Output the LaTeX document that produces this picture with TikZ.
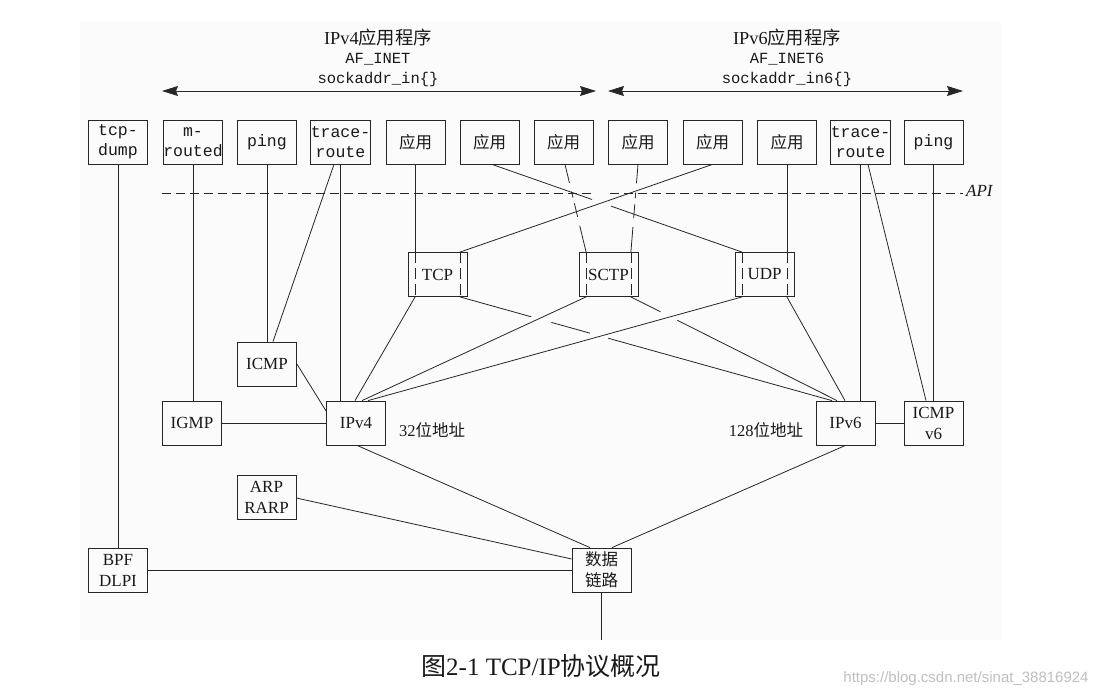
\documentclass[tikz,border=0pt]{standalone}
\usepackage{fontspec}
\usepackage{tikz}
\usetikzlibrary{arrows.meta}
\setmainfont{Liberation Serif}
\setmonofont{Liberation Mono}
\newfontfamily\cjk{Noto Sans CJK SC}
\newfontfamily\wmfont{Liberation Sans}

\begin{document}
\begin{tikzpicture}[x=1pt,y=-1pt,
    line/.style={line width=0.8pt,black!85},
    box/.style={draw=black!85,line width=0.8pt,minimum width=59pt,minimum height=44pt,inner sep=0pt,align=center,text=black!90,font=\fontsize{17}{21}\selectfont},
    monobox/.style={box,font=\ttfamily\fontsize{16.5}{20}\selectfont},
    appbox/.style={box,font=\cjk\fontsize{16.5}{20}\selectfont},
    inner dash/.style={line,dash pattern=on 11pt off 5pt},
    apiline/.style={line,dash pattern=on 9pt off 5pt},
    famarrow/.style={line,{Stealth[length=16pt,width=10pt,inset=2pt]}-{Stealth[length=16pt,width=10pt,inset=2pt]}},
    label/.style={inner sep=0pt,text=black!90}]
      \useasboundingbox (0,0) rectangle (1098,696);
      \fill [black!1.5] (80,22) rectangle (1002,640);
      \node [label,font=\fontsize{18.3}{20}\selectfont] (fourtitle) at (378,38) {IPv4{\cjk 应用程序}};
      \node [label,font=\ttfamily\fontsize{15.5}{18}\selectfont] (fourfam) at (378,59) {AF\_INET};
      \node [label,font=\ttfamily\fontsize{15.5}{18}\selectfont] (fouraddr) at (378,79) {sockaddr\_in\{\}};
      \node [label,font=\fontsize{18.3}{20}\selectfont] (sixtitle) at (787,38) {IPv6{\cjk 应用程序}};
      \node [label,font=\ttfamily\fontsize{15.5}{18}\selectfont] (sixfam) at (787,59) {AF\_INET6};
      \node [label,font=\ttfamily\fontsize{15.5}{18}\selectfont] (sixaddr) at (787,79) {sockaddr\_in6\{\}};
      \coordinate (fourleft) at (162,91);
      \coordinate (fourright) at (596,91);
      \coordinate (sixleft) at (608,91);
      \coordinate (sixright) at (963,91);
      \draw [famarrow] (fourleft) -- (fourright);
      \draw [famarrow] (sixleft) -- (sixright);
      \node [monobox] (tcpdump) at (118,142) {tcp-\\dump};
      \node [monobox] (mrouted) at (193,142) {m-\\routed};
      \node [monobox] (pingfour) at (267,142) {ping};
      \node [monobox] (tracefour) at (340.5,142) {trace-\\route};
      \node [appbox] (appa) at (415.5,142) {应用};
      \node [appbox] (appb) at (489.5,142) {应用};
      \node [appbox] (appc) at (563.5,142) {应用};
      \node [appbox] (appd) at (638,142) {应用};
      \node [appbox] (appe) at (712.5,142) {应用};
      \node [appbox] (appf) at (787,142) {应用};
      \node [monobox] (tracesix) at (860.5,142) {trace-\\route};
      \node [monobox] (pingsix) at (933.5,142) {ping};
      \coordinate (apileft) at (162,193);
      \coordinate (apigapa) at (593,193);
      \coordinate (apigapb) at (610,193);
      \coordinate (apiright) at (963,193);
      \draw [apiline] (apileft) -- (apigapa);
      \draw [apiline] (apigapb) -- (apiright);
      \node [label,anchor=west,font=\itshape\fontsize{17}{20}\selectfont] (api) at (966,191) {API};
      \node [box] (tcp) at (437.5,274.5) {TCP};
      \node [box] (sctp) at (608.5,274.5) {SCTP};
      \node [box] (udp) at (764.5,274.5) {UDP};
      \draw [inner dash] ([xshift=7.5pt]tcp.north west) -- ([xshift=7.5pt]tcp.south west);
      \draw [inner dash] ([xshift=-7.5pt]tcp.north east) -- ([xshift=-7.5pt]tcp.south east);
      \draw [inner dash] ([xshift=7.5pt]sctp.north west) -- ([xshift=7.5pt]sctp.south west);
      \draw [inner dash] ([xshift=-7.5pt]sctp.north east) -- ([xshift=-7.5pt]sctp.south east);
      \draw [inner dash] ([xshift=7.5pt]udp.north west) -- ([xshift=7.5pt]udp.south west);
      \draw [inner dash] ([xshift=-7.5pt]udp.north east) -- ([xshift=-7.5pt]udp.south east);
      \node [box] (icmp) at (267,364) {ICMP};
      \node [box] (igmp) at (192,423) {IGMP};
      \node [box] (ipfour) at (356,423) {IPv4};
      \node [box] (ipsix) at (845.5,423) {IPv6};
      \node [box] (icmpsix) at (933.5,423) {ICMP\\v6};
      \node [label,font=\fontsize{16.5}{18}\selectfont] (fourbits) at (432,430) {32{\cjk 位地址}};
      \node [label,font=\fontsize{16.5}{18}\selectfont] (sixbits) at (766,430) {128{\cjk 位地址}};
      \node [box] (arp) at (266.5,497) {ARP\\RARP};
      \node [box] (bpf) at (118,570) {BPF\\DLPI};
      \node [box,font=\cjk\fontsize{16.5}{21}\selectfont] (datalink) at (601.5,570) {数据\\链路};
      \coordinate (wire) at (601.5,640);
      \draw [line] (tcpdump) -- (bpf);
      \draw [line] (mrouted.south) -- (mrouted.south |- igmp.north);
      \draw [line] (pingfour) -- (icmp);
      \draw [line] (tracefour.south) -- (tracefour.south |- ipfour.north);
      \draw [line] ([xshift=-6.5pt]tracefour.south) -- ([xshift=6pt]icmp.north);
      \draw [line] (appa.south) -- (appa.south |- tcp.north);
      \draw [line,dash pattern=on 106pt off 20pt on 300pt] ([xshift=2.5pt]appb.south) -- ([xshift=7.5pt]udp.north west);
      \draw [line,dash pattern=on 19pt off 9pt on 6pt off 6pt on 14pt off 9pt on 60pt] ([xshift=1.5pt]appc.south) -- ([xshift=7.5pt]sctp.north west);
      \draw [line,dash pattern=on 19pt off 9pt on 6pt off 6pt on 14pt off 9pt on 60pt] (appd.south) -- ([xshift=-7.5pt]sctp.north east);
      \draw [line] (appe.south) -- ([xshift=-7.5pt]tcp.north east);
      \draw [line] (appf.south) -- (appf.south |- udp.north);
      \draw [line] ([xshift=7.5pt]tcp.south west) -- ([xshift=-1pt]ipfour.north);
      \draw [line] ([xshift=7.5pt]sctp.south west) -- ([xshift=6pt]ipfour.north);
      \draw [line] ([xshift=7.5pt]udp.south west) -- ([xshift=12pt]ipfour.north);
      \draw [line,dash pattern=on 74pt off 21pt on 40pt off 19pt on 300pt] ([xshift=-7.5pt]tcp.south east) -- ([xshift=-13.5pt]ipsix.north);
      \draw [line,dash pattern=on 33pt off 19pt on 250pt] ([xshift=-7.5pt]sctp.south east) -- ([xshift=-8.5pt]ipsix.north);
      \draw [line] ([xshift=-7.5pt]udp.south east) -- ([xshift=-0.5pt]ipsix.north);
      \draw [line] (tracesix.south) -- (tracesix.south |- ipsix.north);
      \draw [line] ([xshift=7.5pt]tracesix.south) -- ([xshift=-7.5pt]icmpsix.north);
      \draw [line] (pingsix) -- (icmpsix);
      \draw [line] (icmp.east) -- ([yshift=12pt]ipfour.west);
      \draw [line] (igmp) -- (ipfour);
      \draw [line] (ipsix) -- (icmpsix);
      \draw [line] ([xshift=1pt]ipfour.south) -- ([xshift=-11.5pt]datalink.north);
      \draw [line] (ipsix.south) -- ([xshift=10.5pt]datalink.north);
      \draw [line] ([yshift=-1pt]arp.east) -- ([yshift=11pt]datalink.west);
      \draw [line] (bpf) -- (datalink);
      \draw [line] (datalink) -- (wire);
      \node [label,font=\fontsize{25}{28}\selectfont] (caption) at (541,666) {{\cjk 图}2-1 TCP/IP{\cjk 协议概况}};
      \node [label,text=black!25,font=\wmfont\fontsize{15}{18}\selectfont] (mark) at (966,679) {https://blog.csdn.net/sinat\_38816924};
\end{tikzpicture}
\end{document}
